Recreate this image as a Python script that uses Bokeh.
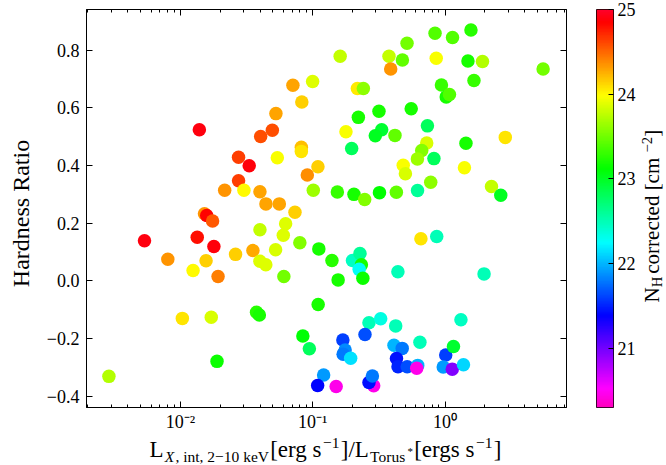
import numpy as np
from bokeh.plotting import figure
from bokeh.models import (ColumnDataSource, LinearColorMapper, FixedTicker, LogAxis,
                          LinearAxis, Label, Range1d)
from bokeh.layouts import row, column
from bokeh.embed import file_html
from bokeh.resources import INLINE

FONT = "Liberation Serif"

# ---------------- data ----------------
lx_ratio = [0.0139, 0.0275, 0.0331, 0.0275, 0.0216, 0.0302, 0.0399, 0.0443, 0.0559, 0.0152,
            0.0158, 0.0175, 0.0399, 0.0624, 0.0599, 0.0734, 0.0799, 0.0404, 0.0495, 0.0527,
            0.0708, 0.0827, 0.0998, 0.0540, 0.0820, 0.0820, 0.0910, 0.1095, 0.1010, 0.1535,
            0.1612, 0.1783, 0.00535, 0.0134, 0.0179, 0.00803, 0.01246, 0.01562, 0.01925, 0.0261,
            0.0353, 0.0399, 0.0442, 0.0524, 0.0605, 0.1112, 0.1397, 0.1556, 0.01034, 0.0171,
            0.0376, 0.0395, 0.1099, 0.0842, 0.0943, 0.0189, 0.00288, 0.1209, 0.1089, 0.1503,
            0.3771, 0.4762, 0.3884, 0.5160, 0.2175, 0.2414, 0.2213, 0.3167, 0.5550, 0.3320,
            0.2971, 0.4184, 0.1969, 0.4829, 0.5017, 0.2049, 0.2470, 0.3195, 0.4287, 0.840,
            1.139, 1.570, 0.858, 1.490, 1.919, 5.512, 0.9392, 1.021, 1.080, 1.654,
            0.736, 0.727, 0.6665, 0.6183, 0.8243, 1.439, 2.854, 1.402, 0.7794, 2.244,
            2.638, 0.6194, 0.1997, 0.2275, 0.2332, 0.2244, 0.2393, 0.4403, 0.6572, 0.8652,
            1.972, 1.319, 0.2661, 0.3263, 0.4237, 0.6458, 0.1689, 0.1758, 0.1698, 0.1935,
            0.2483, 0.4113, 0.4745, 0.4296, 0.4411, 0.5177, 0.6216, 0.6109, 0.2889, 0.2661,
            0.2824, 1.012, 1.158, 0.969, 1.134, 1.378]
hardness = [0.524, 0.429, 0.399, 0.347, 0.314, 0.314, 0.309, 0.267, 0.267, 0.233,
            0.227, 0.208, 0.177, 0.198, 0.158, 0.238, 0.132, 0.501, 0.522, 0.580,
            0.678, 0.620, 0.691, 0.427, 0.463, 0.449, 0.367, 0.396, 0.314, 0.308,
            0.779, 0.517, 0.139, 0.151, 0.119, 0.075, 0.036, 0.070, 0.015, 0.092,
            0.105, 0.068, 0.056, 0.108, 0.015, 0.111, 0.071, 0.0035, -0.130, -0.126,
            -0.109, -0.118, -0.082, -0.191, -0.235, -0.279, -0.331, -0.326, -0.3625, -0.366,
            0.779, 0.766, 0.735, 0.824, 0.667, 0.667, 0.567, 0.588, 0.597, 0.524,
            0.503, 0.5045, 0.459, 0.401, 0.3715, 0.300, 0.282, 0.306, 0.307, 0.859,
            0.844, 0.870, 0.772, 0.7625, 0.761, 0.735, 0.679, 0.638, 0.646, 0.695,
            0.5375, 0.478, 0.452, 0.423, 0.424, 0.477, 0.4976, 0.392, 0.342, 0.327,
            0.297, 0.3135, 0.0705, 0.0948, 0.0556, 0.040, 0.009, 0.032, 0.1458, 0.1538,
            0.0243, -0.1344, -0.1448, -0.131, -0.156, -0.213, -0.205, -0.240, -0.254, -0.268,
            -0.1858, -0.223, -0.234, -0.269, -0.2976, -0.2976, -0.293, -0.303, -0.3635, -0.352,
            -0.330, -0.257, -0.2274, -0.2986, -0.306, -0.2906]
nh_corrected = [24.9, 24.65, 24.88, 24.65, 24.35, 24.0, 24.3, 24.3, 24.3, 24.35,
                24.85, 24.55, 23.78, 23.87, 23.87, 24.15, 23.55, 24.58, 24.58, 24.3,
                24.3, 24.15, 23.87, 23.97, 24.2, 24.08, 24.37, 24.15, 23.65, 23.3,
                23.78, 23.97, 24.9, 24.8, 24.88, 24.35, 24.0, 24.15, 24.42, 24.15,
                24.28, 23.87, 23.87, 23.85, 23.5, 23.2, 23.25, 23.2, 24.08, 23.85,
                23.25, 23.2, 23.2, 23.1, 22.8, 23.15, 23.73, 21.9, 21.4, 20.45,
                23.78, 23.45, 24.35, 23.5, 24.05, 23.6, 23.2, 23.2, 23.2, 22.95,
                23.0, 23.45, 22.8, 23.97, 23.85, 23.2, 23.55, 23.12, 23.45, 23.4,
                23.4, 23.25, 23.97, 23.2, 23.73, 23.5, 23.3, 23.2, 23.4, 23.3,
                22.8, 23.85, 23.55, 23.65, 22.8, 23.2, 24.08, 23.97, 23.6, 23.78,
                23.0, 22.6, 22.45, 22.6, 23.2, 22.27, 23.15, 22.5, 24.08, 22.5,
                22.5, 22.45, 22.5, 22.35, 22.5, 22.5, 21.6, 21.85, 21.8, 22.15,
                21.65, 22.0, 21.8, 21.45, 21.5, 21.65, 22.0, 20.45, 20.45, 21.42,
                21.8, 21.6, 22.95, 21.9, 20.95, 22.1]

x_ticks = [0.01, 0.1, 1.0]
x_tick_labels = ["10\u207b\u00b2", "10\u207b\u00b9", "10\u2070"]
y_ticks = [-0.4, -0.2, 0.0, 0.2, 0.4, 0.6, 0.8]
y_tick_labels = ["\u22120.4", "\u22120.2", "0.0", "0.2", "0.4", "0.6", "0.8"]
cb_ticks = [21, 22, 23, 24, 25]
nh_low, nh_high = 20.3, 25.0

# ---------------- colormap (gist_rainbow reversed) ----------------
_seg = [(0.000, (1.00, 0.00, 0.16)), (0.030, (1.00, 0.00, 0.00)), (0.215, (1.00, 1.00, 0.00)),
        (0.400, (0.00, 1.00, 0.00)), (0.586, (0.00, 1.00, 1.00)), (0.770, (0.00, 0.00, 1.00)),
        (0.954, (1.00, 0.00, 1.00)), (1.000, (1.00, 0.00, 0.75))]


def gist_rainbow(s):
    for (s0, c0), (s1, c1) in zip(_seg[:-1], _seg[1:]):
        if s0 <= s <= s1:
            f = (s - s0) / (s1 - s0)
            return tuple(a + (b - a) * f for a, b in zip(c0, c1))
    return _seg[-1][1]


palette = []
for i in range(256):
    r, g, b = gist_rainbow(1.0 - i / 255.0)
    palette.append("#%02x%02x%02x" % (round(r * 255), round(g * 255), round(b * 255)))
mapper = LinearColorMapper(palette=palette, low=nh_low, high=nh_high)

TW = {" ": 250, "[": 333, "]": 333, "/": 278, ",": 250, "*": 500, "\u2212": 564,
      "0": 500, "1": 500, "2": 500, "L": 611, "T": 611, "X": 611, "V": 722, "N": 722, "H": 722,
      "e": 444, "g": 500, "i": 278, "k": 500, "n": 500, "o": 500, "r": 333, "s": 389,
      "t": 278, "u": 500, "c": 444, "d": 500, "m": 778, "a": 444}
MID = 0.32  # distance of the text middle above the alphabetic baseline, in em


def tw(text, size):
    return sum(TW.get(ch, 500) for ch in text) * size / 1000.0


def strip(width, height):
    f = figure(width=width, height=height, x_range=Range1d(0, 1), y_range=Range1d(0, 1),
               output_backend="svg", toolbar_location=None,
               x_axis_location=None, y_axis_location=None,
               min_border_left=0, min_border_right=0, min_border_top=0, min_border_bottom=0)
    f.grid.visible = False
    f.outline_line_color = None
    return f


ROW_H = 435

# ---------------- main figure ----------------
x_minor = [k * 10.0 ** e for e in (-3, -2, -1, 0) for k in range(2, 10)]

p = figure(width=556, height=ROW_H, x_axis_type="log",
           x_range=Range1d(0.00195, 8.28), y_range=Range1d(-0.439, 0.941),
           output_backend="svg", toolbar_location=None,
           min_border_left=46, min_border_right=30, min_border_top=9, min_border_bottom=28)
p.grid.visible = False
p.outline_line_color = "black"
p.outline_line_width = 1


def style(ax, labels=True):
    ax.major_tick_in = 6
    ax.major_tick_out = 0
    ax.minor_tick_in = 3
    ax.minor_tick_out = 0
    ax.axis_line_color = "black"
    ax.major_tick_line_color = "black"
    ax.minor_tick_line_color = "black"
    ax.major_label_text_font = FONT
    if labels:
        ax.major_label_text_font_size = "18px"
        ax.major_label_text_color = "black"
    else:
        ax.major_label_text_font_size = "1px"
        ax.major_label_text_color = None
        ax.major_label_standoff = 0


xa = p.xaxis[0]
xa.ticker = FixedTicker(ticks=x_ticks, minor_ticks=x_minor)
xa.major_label_overrides = dict(zip(x_ticks, x_tick_labels))
style(xa)
xa.major_label_standoff = 4

ya = p.yaxis[0]
ya.ticker = FixedTicker(ticks=y_ticks, minor_ticks=[])
ya.major_label_overrides = dict(zip(y_ticks, y_tick_labels))
style(ya)
ya.major_label_standoff = 7

top = LogAxis(ticker=FixedTicker(ticks=x_ticks, minor_ticks=x_minor))
style(top, labels=False)
p.add_layout(top, "above")
right = LinearAxis(ticker=FixedTicker(ticks=y_ticks, minor_ticks=[]))
style(right, labels=False)
p.add_layout(right, "right")

src = ColumnDataSource(dict(x=lx_ratio, y=hardness, nh=nh_corrected))
p.scatter("x", "y", source=src, size=13.5, line_color=None,
          fill_color={"field": "nh", "transform": mapper})

# ---------------- y label strip ----------------
ylab = strip(40, ROW_H)
ylab.add_layout(Label(x=20, y=213, x_units="canvas", y_units="canvas", text="Hardness Ratio",
                      angle=np.pi / 2, text_font=FONT, text_font_size="24px", text_color="black",
                      text_align="center", text_baseline="middle"))

# ---------------- colour bar figure ----------------
cb = figure(width=42, height=ROW_H, x_range=Range1d(0, 1), y_range=Range1d(nh_low, nh_high),
            output_backend="svg", toolbar_location=None, x_axis_location=None,
            y_axis_location="right",
            min_border_left=0, min_border_right=22, min_border_top=9, min_border_bottom=28)
cb.grid.visible = False
cb.outline_line_color = "black"
cb.image(image=[np.linspace(nh_low, nh_high, 256).reshape(256, 1)], x=0, y=nh_low, dw=1,
         dh=nh_high - nh_low, color_mapper=mapper)
ca = cb.yaxis[0]
ca.ticker = FixedTicker(ticks=cb_ticks, minor_ticks=[])
style(ca)
ca.axis_line_color = None
ca.major_tick_in = 5
ca.major_label_standoff = 4

# ---------------- colour bar title strip (rotated, reads bottom to top) ----------------
cblab = strip(28, ROW_H)
CM, CS = 21, 14.7
cpieces = [("N", CM, 0, 0), ("H", CS, 3, 3), (" corrected [cm", CM, 0, 0),
           ("\u22122", CS, -7, 0), ("]", CM, 0, 0)]
cy, bx = 302.0, 20.0
for text, size, dx, gap in cpieces:
    cblab.add_layout(Label(x=bx + dx - MID * size, y=cy, x_units="canvas", y_units="canvas",
                           text=text, angle=np.pi / 2, text_font=FONT,
                           text_font_size="%.1fpx" % size, text_color="black",
                           text_align="left", text_baseline="middle"))
    cy -= tw(text, size) + gap

# ---------------- x label strip ----------------
xlab = strip(666, 465 - ROW_H)
MAIN, SUB = 23, 15.5
xpieces = [("L", MAIN, "normal", 0), ("X", SUB, "italic", 4), (", int, 2\u221210 keV", SUB, "normal", 4),
           ("[erg s", MAIN, "normal", 0), ("\u22121", SUB, "normal", -9), ("]/L", MAIN, "normal", 0),
           ("Torus", SUB, "normal", 4), ("*", 11, "normal", -2), ("[ergs s", MAIN, "normal", 0),
           ("\u22121", SUB, "normal", -9), ("]", MAIN, "normal", 0)]
cx, base = 149.0, 456.5 - ROW_H
for text, size, style_, dy in xpieces:
    xlab.add_layout(Label(x=cx, y=base + dy - MID * size, x_units="canvas", y_units="canvas",
                          text=text, text_font=FONT, text_font_size="%.1fpx" % size,
                          text_font_style=style_, text_color="black",
                          text_align="left", text_baseline="middle"))
    cx += tw(text, size) + 1.2

layout = column(row(ylab, p, cb, cblab), xlab)
open("out.html", "w").write(file_html(layout, INLINE))
